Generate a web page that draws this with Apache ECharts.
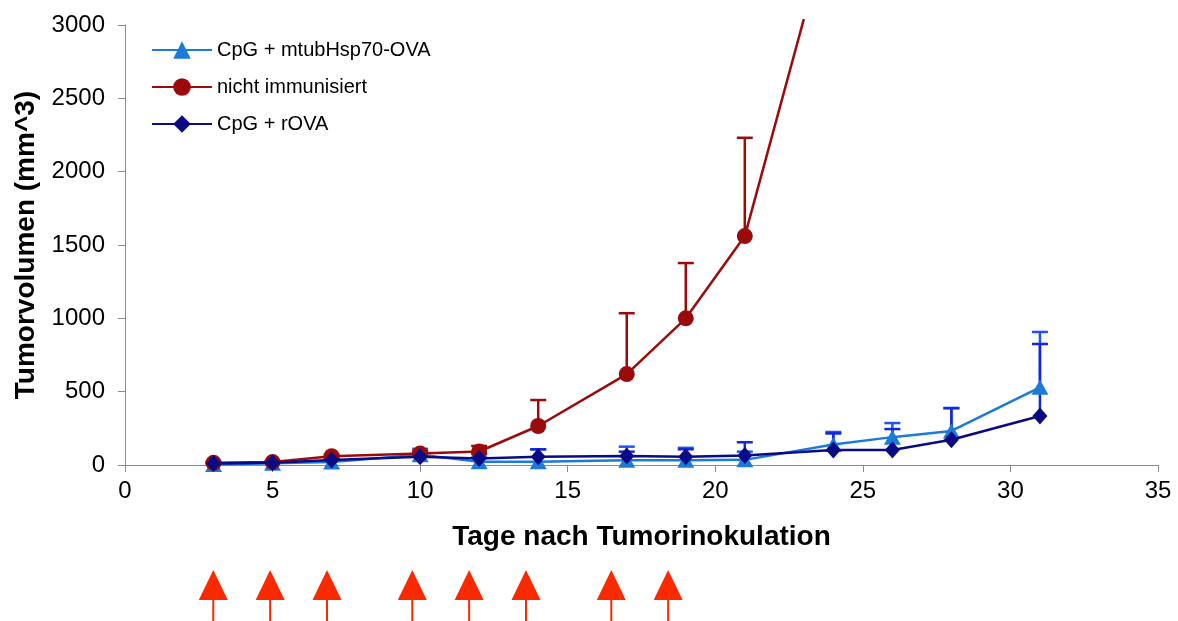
<!DOCTYPE html>
<html>
<head>
<meta charset="utf-8">
<script src="https://cdn.jsdelivr.net/npm/echarts@6/dist/echarts.min.js"></script>
<style>
  html, body { margin: 0; padding: 0; background: #fff; }
  #chart { width: 1178px; height: 621px; }
</style>
</head>
<body>
<div id="chart"></div>
<script>
// Messtage (Tage nach Tumorinokulation)
const days = [3, 5, 7, 10, 12, 14, 17, 19, 21, 24, 26, 28, 31];
const daysUnimmunized = [3, 5, 7, 10, 12, 14, 17, 19, 21, 23];

// Mittleres Tumorvolumen (mm^3) und Standardabweichung je Gruppe
const mtubMean = [3, 12, 20, 70, 22, 22, 32, 32, 35, 140, 190, 232, 530];
const mtubSD   = [6, 8, 15, 40, 30, 85, 93, 85, 56, 85, 96, 157, 377];

const naiveMean = [15, 20, 60, 78, 92, 266, 620, 1000, 1561, 3040];
const naiveSD   = [5, 5, 10, 15, 38, 177, 415, 377, 670, null];

const rovaMean = [10, 16, 34, 57, 45, 57, 61, 57, 65, 102, 102, 172, 334];
const rovaSD   = [5, 8, 12, 30, 30, 50, 30, 50, 90, 113, 143, 215, 491];

// Immunisierungstage (rote Pfeile unter der Achse)
const immunizationDays = [3, 5, 7, 10, 12, 14, 17, 19];

const names = ['CpG + mtubHsp70-OVA', 'nicht immunisiert', 'CpG + rOVA'];
const colors = ['#1C7BD9', '#9B0B0B', '#0A0A85'];
const errColors = ['#1F55EE', '#9B0B0B', '#1526E0'];

const FONT = '"Liberation Sans", Arial, sans-serif';

function pairs(xs, ys) { return xs.map((x, i) => [x, ys[i]]); }
function errData(xs, ys, sd) {
  return xs.map((x, i) => [x, ys[i], sd[i]]).filter(d => d[2] != null);
}

// Nur obere Fehlerbalken mit Querstrich
function errorBar(color) {
  return function (params, api) {
    const x = api.value(0), m = api.value(1), s = api.value(2);
    const base = api.coord([x, m]);
    const top = api.coord([x, m + s]);
    const half = 8;
    return {
      type: 'group',
      children: [
        { type: 'line', shape: { x1: base[0], y1: base[1], x2: top[0], y2: top[1] },
          style: { stroke: color, lineWidth: 2.5 } },
        { type: 'line', shape: { x1: top[0] - half, y1: top[1], x2: top[0] + half, y2: top[1] },
          style: { stroke: color, lineWidth: 2.5 } }
      ]
    };
  };
}

function arrow(params, api) {
  const p = api.coord([api.value(0), 1]);
  const half = 14.5, head = 30;
  return {
    type: 'group',
    children: [
      { type: 'polygon', shape: { points: [[p[0], p[1]], [p[0] - half, p[1] + head], [p[0] + half, p[1] + head]] },
        style: { fill: '#FA2A00' } },
      { type: 'rect', shape: { x: p[0] - 1, y: p[1] + head, width: 2, height: 30 },
        style: { fill: '#FA2A00' } }
    ]
  };
}

const chart = echarts.init(document.getElementById('chart'), null, { renderer: 'canvas' });

const axisLineStyle = { color: '#8a8a8a', width: 1 };

chart.setOption({
  animation: false,
  backgroundColor: '#ffffff',
  textStyle: { fontFamily: FONT },
  legend: {
    orient: 'vertical',
    left: 146,
    top: 34,
    itemWidth: 60,
    itemHeight: 22,
    itemGap: 15,
    data: names,
    textStyle: { fontSize: 20, color: '#000', fontFamily: FONT, lineHeight: 22 }
  },
  grid: [
    { left: 125, right: 20, top: 25, bottom: 156, containLabel: false },
    { left: 128, width: 995, top: 570, height: 51, containLabel: false }
  ],
  xAxis: [
    {
      type: 'value', gridIndex: 0, min: 0, max: 35, interval: 5,
      name: 'Tage nach Tumorinokulation',
      nameLocation: 'middle', nameGap: 58,
      nameTextStyle: { fontSize: 28, fontWeight: 'bold', color: '#000', fontFamily: FONT },
      axisLine: { show: true, lineStyle: axisLineStyle },
      axisTick: { show: true, length: 7, inside: false, lineStyle: axisLineStyle },
      axisLabel: { fontSize: 24, color: '#000', margin: 14, fontFamily: FONT },
      splitLine: { show: false }
    },
    {
      type: 'value', gridIndex: 1, min: 0, max: 35, show: false
    }
  ],
  yAxis: [
    {
      type: 'value', gridIndex: 0, min: 0, max: 3000, interval: 500,
      name: 'Tumorvolumen (mm^3)',
      nameLocation: 'middle', nameGap: 83, nameRotate: 90,
      nameTextStyle: { fontSize: 28, fontWeight: 'bold', color: '#000', fontFamily: FONT },
      axisLine: { show: true, lineStyle: axisLineStyle },
      axisTick: { show: true, length: 7, inside: false, lineStyle: axisLineStyle },
      axisLabel: { fontSize: 24, color: '#000', margin: 20, fontFamily: FONT,
                   formatter: v => String(v) },
      splitLine: { show: false }
    },
    {
      type: 'value', gridIndex: 1, min: 0, max: 1, show: false
    }
  ],
  series: [
    {
      type: 'custom', name: 'err-mtub', xAxisIndex: 0, yAxisIndex: 0, z: 2,
      renderItem: errorBar(errColors[0]), data: errData(days, mtubMean, mtubSD), silent: true
    },
    {
      type: 'custom', name: 'err-naive', xAxisIndex: 0, yAxisIndex: 0, z: 2,
      renderItem: errorBar(errColors[1]), data: errData(daysUnimmunized, naiveMean, naiveSD), silent: true
    },
    {
      type: 'custom', name: 'err-rova', xAxisIndex: 0, yAxisIndex: 0, z: 2,
      renderItem: errorBar(errColors[2]), data: errData(days, rovaMean, rovaSD), silent: true
    },
    {
      name: names[0], type: 'line', xAxisIndex: 0, yAxisIndex: 0, z: 3,
      data: pairs(days, mtubMean),
      symbol: 'triangle', symbolSize: [17, 15],
      lineStyle: { color: colors[0], width: 2.5 },
      itemStyle: { color: colors[0] }
    },
    {
      name: names[1], type: 'line', xAxisIndex: 0, yAxisIndex: 0, z: 4, clip: false,
      data: pairs(daysUnimmunized, naiveMean).map((d, i, a) =>
        i === a.length - 1 ? { value: d, symbol: 'none' } : d),
      symbol: 'circle', symbolSize: 16,
      lineStyle: { color: colors[1], width: 2.5 },
      itemStyle: { color: colors[1] }
    },
    {
      name: names[2], type: 'line', xAxisIndex: 0, yAxisIndex: 0, z: 5,
      data: pairs(days, rovaMean),
      symbol: 'diamond', symbolSize: [15, 17],
      lineStyle: { color: colors[2], width: 2.5 },
      itemStyle: { color: colors[2] }
    },
    {
      type: 'custom', name: 'Immunisierung', xAxisIndex: 1, yAxisIndex: 1,
      renderItem: arrow, data: immunizationDays.map(d => [d]), silent: true, clip: false
    }
  ]
});
</script>
</body>
</html>
